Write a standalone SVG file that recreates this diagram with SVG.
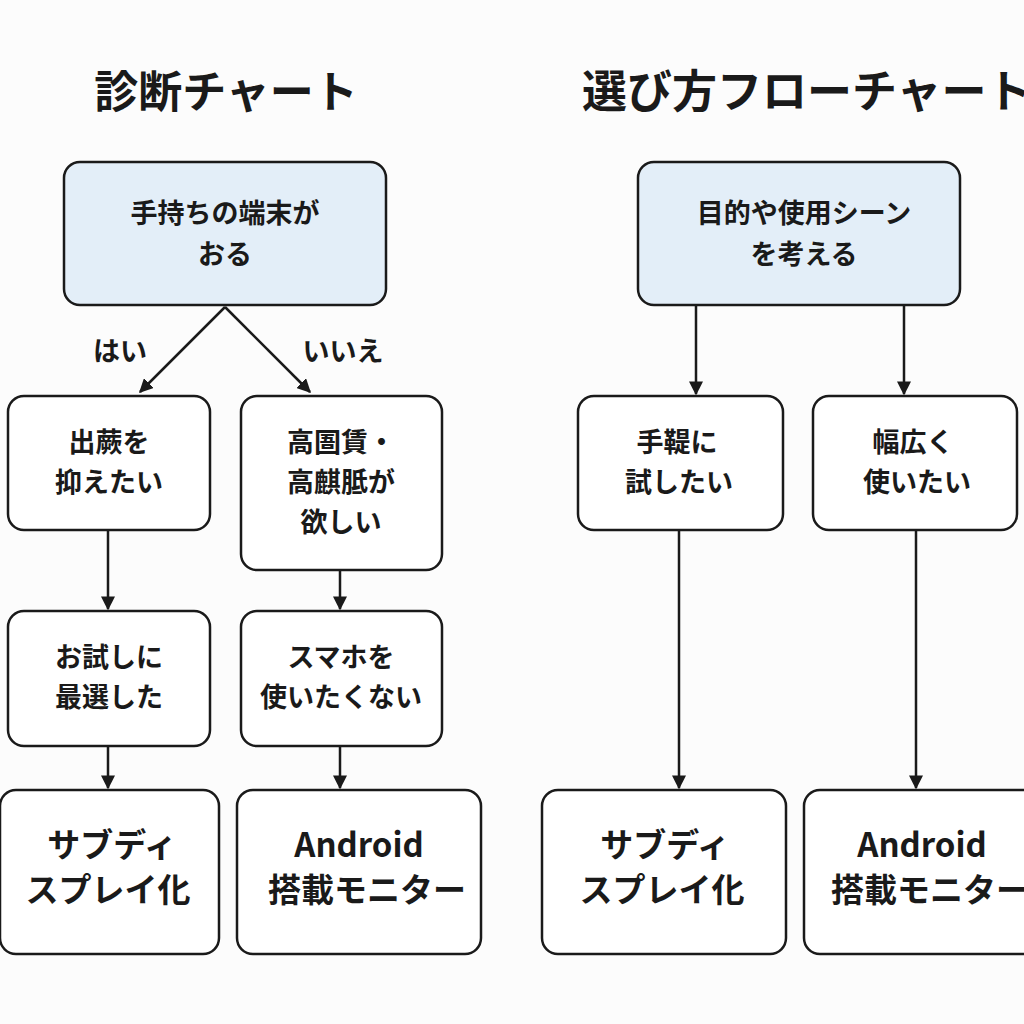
<svg xmlns="http://www.w3.org/2000/svg" width="1024" height="1024" viewBox="0 0 1024 1024">
<style>
text{font-family:"Noto Sans CJK JP","Noto Sans",sans-serif;font-weight:700;fill:#1a1a1a;text-anchor:middle}
.b{fill:#fff;stroke:#1a1a1a;stroke-width:2.5}
.h{fill:#e3eef8;stroke:#1a1a1a;stroke-width:2.5}
.t{font-size:27px}
.L{font-size:33px}
.c line{stroke:#1a1a1a;stroke-width:2.5;marker-end:url(#a)}
</style>
<defs><marker id="a" viewBox="0 0 10 10" refX="9" refY="5" markerWidth="14" markerHeight="14" orient="auto" markerUnits="userSpaceOnUse"><path d="M0,0L10,5L0,10z" fill="#1a1a1a"/></marker></defs>
<rect width="1024" height="1024" fill="#fcfcfc"/>
<text x="226" y="108" font-size="44">診断チャート</text>
<text x="582" y="108" font-size="45" style="text-anchor:start">選び方フローチャート</text>
<g class="c">
<line x1="225" y1="307" x2="140" y2="392"/>
<line x1="225" y1="307" x2="310" y2="392"/>
<line x1="108" y1="530" x2="108" y2="609"/>
<line x1="108" y1="746" x2="108" y2="788"/>
<line x1="340" y1="570" x2="340" y2="609"/>
<line x1="340" y1="746" x2="340" y2="788"/>
<line x1="696" y1="305" x2="696" y2="394"/>
<line x1="904" y1="305" x2="904" y2="394"/>
<line x1="679" y1="530" x2="679" y2="788"/>
<line x1="916" y1="530" x2="916" y2="788"/>
</g>
<text class="t" x="120" y="361">はい</text>
<text class="t" x="343" y="361">いいえ</text>
<g id="n1"><rect class="h" x="64" y="162" width="322" height="143" rx="16"/><text class="t" x="225" y="223">手持ちの端末が</text><text class="t" x="225" y="264">おる</text></g>
<g id="n2"><rect class="b" x="8" y="396" width="202" height="134" rx="16"/><text class="t" x="109" y="452">出蕨を</text><text class="t" x="109" y="492">抑えたい</text></g>
<g id="n3"><rect class="b" x="241" y="396" width="201" height="174" rx="16"/><text class="t" x="341" y="452">高圄賃・</text><text class="t" x="341" y="492">高麒胝が</text><text class="t" x="341" y="532">欲しい</text></g>
<g id="n4"><rect class="b" x="8" y="611" width="202" height="135" rx="16"/><text class="t" x="109" y="667">お試しに</text><text class="t" x="109" y="707">最選した</text></g>
<g id="n5"><rect class="b" x="241" y="611" width="201" height="135" rx="16"/><text class="t" x="341" y="667">スマホを</text><text class="t" x="341" y="707">使いたくない</text></g>
<g id="n6"><rect class="b" x="0" y="790" width="219" height="164" rx="16"/><text class="L" x="112" y="857">サブディ</text><text class="L" x="108" y="902">スプレイ化</text></g>
<g id="n7"><rect class="b" x="237" y="790" width="244" height="164" rx="16"/><text class="L" x="359" y="857">Android</text><text class="L" x="367" y="902">搭載モニター</text></g>
<g id="n8"><rect class="h" x="638" y="162" width="322" height="143" rx="16"/><text class="t" x="804" y="223">目的や使用シーン</text><text class="t" x="804" y="264">を考える</text></g>
<g id="n9"><rect class="b" x="578" y="396" width="205" height="134" rx="16"/><text class="t" x="677" y="452">手鞮に</text><text class="t" x="679" y="492">試したい</text></g>
<g id="n10"><rect class="b" x="813" y="396" width="204" height="134" rx="16"/><text class="t" x="913" y="452">幅広く</text><text class="t" x="917" y="492">使いたい</text></g>
<g id="n11"><rect class="b" x="542" y="790" width="244" height="164" rx="16"/><text class="L" x="665" y="857">サブディ</text><text class="L" x="662" y="902">スプレイ化</text></g>
<g id="n12"><rect class="b" x="804" y="790" width="240" height="164" rx="16"/><text class="L" x="922" y="857">Android</text><text class="L" x="930" y="902">搭載モニター</text></g>
</svg>
